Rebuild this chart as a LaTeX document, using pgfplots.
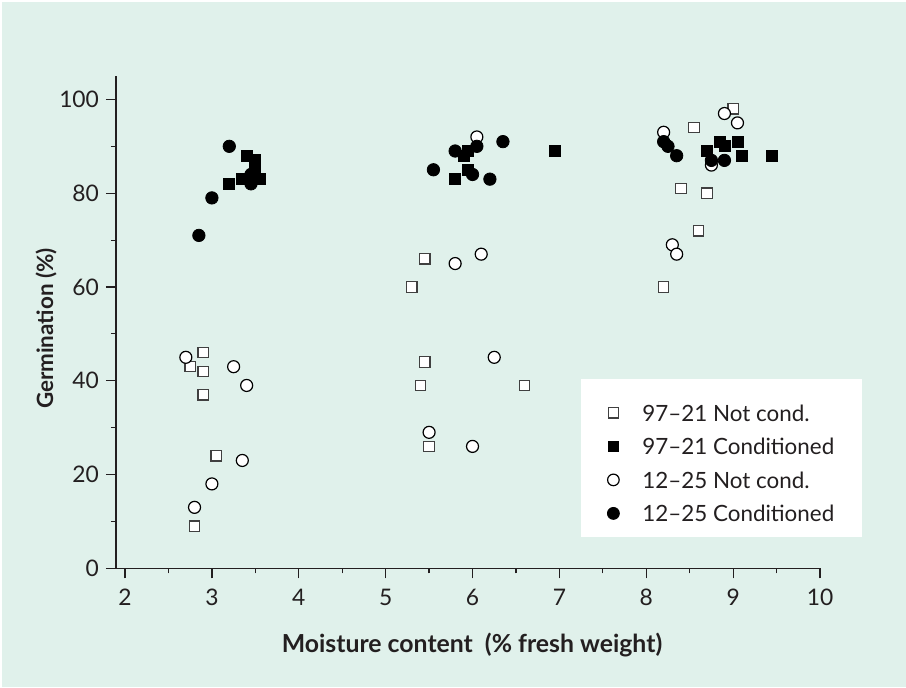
\documentclass[border=0pt]{standalone}
\usepackage{fontspec}
\setmainfont{Lato}
\usepackage{pgfplots}
\pgfplotsset{compat=1.18}
\definecolor{bg}{HTML}{E0F1EB}
\definecolor{ink}{HTML}{231F20}

\begin{document}
\begin{tikzpicture}
% page background, axis box lower left sits at (0,0)
\fill[white] (-58pt,-59.35pt) rectangle (395pt,284.15pt);
\fill[bg] (-57pt,-59.35pt) rectangle (395pt,283.15pt);
% white legend panel
\fill[white] (232.5pt,15.65pt) rectangle (373pt,94.65pt);
\begin{axis}[
    scale only axis,
    width=352pt, height=246.15pt,
    axis x line=bottom, axis y line=left,
    axis line style={-, ink, line width=0.6pt},
    xmin=1.896, xmax=10, ymin=0, ymax=105,
    xtick={2,3,...,10}, ytick={0,20,...,100},
    minor x tick num=1, minor y tick num=1,
    tick align=outside,
    major tick length=5pt, minor tick length=2.5pt,
    tick style={ink, line width=0.6pt},
    /pgf/number format/assume math mode=true,
    ticklabel style={font=\fontsize{11.4}{13}\selectfont, text=ink},
    xticklabel style={yshift=-2pt},
    xlabel={\bfseries Moisture content\ \ (\% fresh weight)},
    ylabel={\bfseries Germination (\%)},
    every axis x label/.style={at={(axis description cs:0.5057,-0.1558)}, anchor=center, font=\fontsize{12.4}{14}\selectfont, text=ink},
    every axis y label/.style={at={(axis description cs:-0.0994,0.487)}, rotate=90, anchor=center, font=\fontsize{11.2}{13}\selectfont, text=ink},
    legend style={at={(axis description cs:0.6889,0.3502)}, anchor=north west,
        fill=none, draw=none, inner xsep=0pt, inner ysep=0pt,
        font=\fontsize{11.2}{13}\selectfont, text=ink,
        nodes={text height=12.6pt, text depth=4pt, inner sep=0pt},
        row sep=0.15pt},
    legend cell align=left,
    legend image code/.code={\path[draw=none, fill=none] (-6pt,0pt) -- (14.5pt,0pt);
        \draw[#1] plot coordinates {(0pt,0pt)};},
]
\addlegendimage{only marks, mark=square*, mark size=2.6pt, mark options={fill=white, draw=black!75, line width=0.6pt}}
\addlegendentry{97–21 Not cond.}
\addlegendimage{only marks, mark=square*, mark size=2.6pt, mark options={fill=black, draw=black}}
\addlegendentry{97–21 Conditioned}
\addlegendimage{only marks, mark=*, mark size=2.9pt, mark options={fill=white, draw=black, line width=0.6pt}}
\addlegendentry{12–25 Not cond.}
\addlegendimage{only marks, mark=*, mark size=3pt, mark options={fill=black, draw=black}}
\addlegendentry{12–25 Conditioned}

% 97-21 not conditioned
\addplot[forget plot, only marks, mark=square*, mark size=2.6pt,
    mark options={fill=white, draw=black!75, line width=0.6pt}]
coordinates {
(2.80,9) (2.75,43) (2.90,46) (2.90,42) (2.90,37) (3.05,24)
(5.30,60) (5.45,66) (5.45,44) (5.40,39) (5.50,26) (6.60,39)
(9.00,98) (8.55,94) (8.40,81) (8.70,80) (8.60,72) (8.20,60)
};
% 12-25 not conditioned
\addplot[forget plot, only marks, mark=*, mark size=3pt,
    mark options={fill=white, draw=black, line width=0.6pt}]
coordinates {
(2.70,45) (3.25,43) (3.40,39) (3.35,23) (3.00,18) (2.80,13)
(5.80,65) (6.10,67) (6.05,92) (6.25,45) (5.50,29) (6.00,26)
(8.90,97) (9.05,95) (8.20,93) (8.75,86) (8.30,69) (8.35,67)
};
% 97-21 conditioned
\addplot[forget plot, only marks, mark=square*, mark size=2.75pt,
    mark options={fill=black, draw=black}]
coordinates {
(3.20,82) (3.35,83) (3.40,88) (3.50,87) (3.50,85) (3.55,83)
(5.80,83) (5.90,88) (5.95,89) (5.95,85) (6.95,89)
(8.70,89) (8.85,91) (8.90,90) (9.05,91) (9.10,88) (9.45,88)
};
% 12-25 conditioned
\addplot[forget plot, only marks, mark=*, mark size=3.1pt,
    mark options={fill=black, draw=black}]
coordinates {
(3.20,90) (3.00,79) (2.85,71) (3.45,84) (3.45,82)
(5.55,85) (5.80,89) (6.05,90) (6.00,84) (6.20,83) (6.35,91)
(8.20,91) (8.25,90) (8.35,88) (8.75,87) (8.90,87)
};
\end{axis}
\end{tikzpicture}
\end{document}
